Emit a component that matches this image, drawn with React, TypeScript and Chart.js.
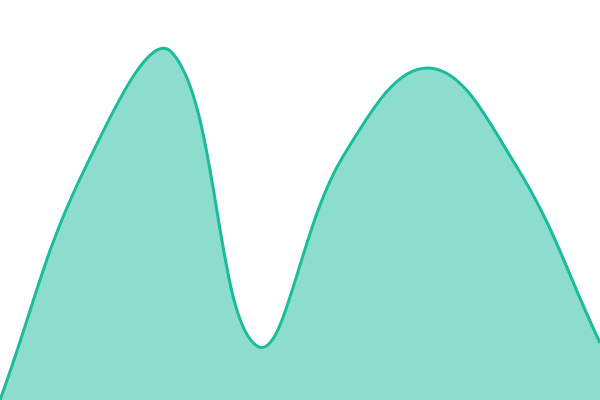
import React, { useEffect, useRef } from "react";
import { Chart, registerables } from "chart.js";

Chart.register(...registerables);

const labels = ["1", "2", "3", "4", "5", "6", "7", "8"];
const values = [0, 58.3, 87, 13.5, 60.8, 83, 59.3, 14.3];

const LINE = "#1abc9c";
const FILL = "rgba(26, 188, 156, 0.5)";

export default function App() {
  const ref = useRef<HTMLCanvasElement | null>(null);
  useEffect(() => {
    document.body.style.margin = "0";
    const ctx = ref.current;
    if (!ctx) return;
    const chart = new Chart(ctx, {
      type: "line",
      data: {
        labels,
        datasets: [
          {
            data: values,
            borderColor: LINE,
            backgroundColor: FILL,
            borderWidth: 3,
            fill: "origin",
            tension: 0.4,
            pointRadius: 0,
          },
        ],
      },
      options: {
        animation: false,
        responsive: true,
        maintainAspectRatio: false,
        layout: { padding: 0 },
        plugins: { legend: { display: false }, tooltip: { enabled: false } },
        scales: {
          x: { display: false, offset: false },
          y: { display: false, min: 0, max: 100 },
        },
      },
    });
    return () => chart.destroy();
  }, []);
  return (
    <div style={{ width: 600, height: 400, position: "relative" }}>
      <canvas ref={ref} />
    </div>
  );
}
